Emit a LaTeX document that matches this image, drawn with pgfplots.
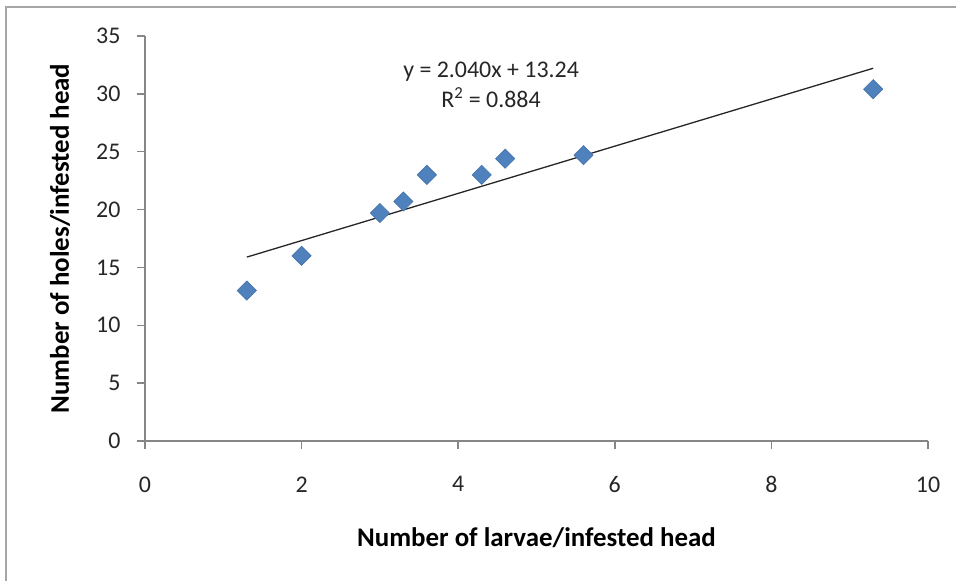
\documentclass[border=0pt]{standalone}
\usepackage{fontspec}
\setmainfont{Carlito}
\usepackage{pgfplots}
\pgfplotsset{compat=1.18}
\definecolor{ptblue}{HTML}{4F81BD}
\definecolor{axgray}{HTML}{868686}

\begin{document}
\begin{tikzpicture}
\begin{axis}[
    at={(145bp,140bp)}, anchor=south west,
    scale only axis, width=783bp, height=405bp,
    xmin=0, xmax=10, ymin=0, ymax=35,
    xtick={0,2,...,10}, ytick={0,5,...,35},
    axis lines=left,
    axis line style={-, draw=axgray, line width=1.5bp},
    tick align=outside, major tick length=8bp,
    tick style={draw=axgray, line width=1.5bp},
    /pgf/number format/assume math mode=true,
    ticklabel style={font=\fontsize{24}{24}\selectfont, text=black!85},
    xticklabel style={yshift=-24bp},
    yticklabel style={xshift=-13bp},
    label style={font=\bfseries\fontsize{27}{27}\selectfont},
    xlabel={Number of larvae/infested head},
    ylabel={Number of holes/infested head},
    xlabel style={at={(rel axis cs:0.5,0)}, anchor=center, yshift=-97bp},
    ylabel style={at={(rel axis cs:0,0.5)}, anchor=center, yshift=85bp},
    clip=false,
]
% observed points
\addplot[only marks, mark=square*, mark size=6.8bp,
    mark options={rotate=45, fill=ptblue, draw=ptblue!90!black, line width=0.6bp}]
  coordinates {
    (1.3,13.0) (2.0,16.0) (3.0,19.7) (3.3,20.7) (3.6,23.0)
    (4.3,23.0) (4.6,24.4) (5.6,24.7) (9.3,30.4)
  };
% linear trend y = 2.040x + 13.24
\addplot[black!85, line width=1.3bp] coordinates {(1.3,15.892) (9.3,32.212)};
\node[align=center, font=\fontsize{24}{30}\selectfont, text=black!85]
  at (axis cs:4.42,30.8) {y = 2.040x + 13.24\\R\textsuperscript{2} = 0.884};
\end{axis}
\draw[gray!70, line width=1.5bp] (6bp,0) -- (6bp,574bp) -- (956bp,574bp);
\pgfresetboundingbox
\path[use as bounding box] (0,0) rectangle (956bp,581bp);
\end{tikzpicture}
\end{document}
